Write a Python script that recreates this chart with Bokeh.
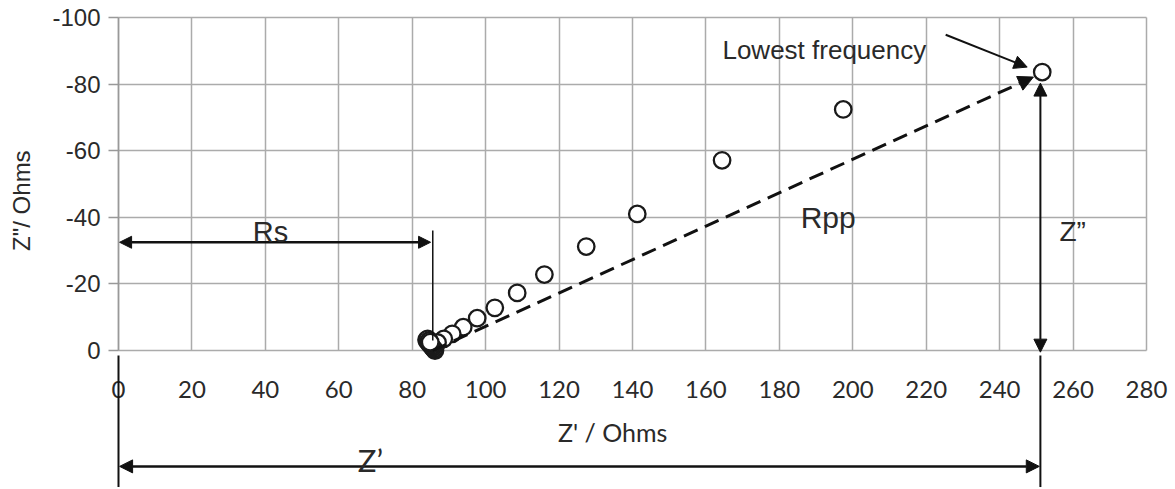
import math
from bokeh.plotting import figure
from bokeh.models import Range1d, FixedTicker, Arrow, NormalHead, Label, Grid
from bokeh.embed import file_html
from bokeh.resources import INLINE

# Nyquist data: real part Z' (Ohms) and imaginary part Z'' (Ohms), low -> high frequency
z_real = [251.6, 197.4, 164.4, 141.3, 127.4, 116.0, 108.6, 102.5, 97.7, 93.9,
          90.9, 88.6, 86.9, 86.2, 85.9, 85.6, 85.3, 85.0, 84.7, 84.4, 84.1,
          83.9, 84.2, 84.6, 84.9]
z_imag = [-83.6, -72.4, -57.1, -41.0, -31.2, -22.8, -17.3, -12.8, -9.7, -7.0,
          -5.0, -3.5, -2.4, 0.0, -0.4, -0.8, -1.2, -1.6, -2.0, -2.4, -2.8,
          -3.2, -3.5, -3.0, -2.5]

x_ticks = [0, 20, 40, 60, 80, 100, 120, 140, 160, 180, 200, 220, 240, 260, 280]
y_ticks = [0, -20, -40, -60, -80, -100]
y_tick_labels = {t: str(t) for t in y_ticks}
x_title = "Z' / Ohms"
y_title = 'Z"/ Ohms'

# annotation anchors (Ohms)
rs_value = 85.6          # series resistance
z_low_re = 251.1         # Z' at lowest frequency
z_low_im = -80.3         # Z'' at lowest frequency (arrow tip)
rpp_tip = (249.2, -82.1)

# visible window (leaves room for tick labels and dimension lines around the grid)
x_view = (-32.14, 287.9)
y_view = (41.74, -105.1)

GRID = "#ababab"
INK = "#111111"
TXT = "#2a2a2a"
ARIAL = "Liberation Sans"
CAL = "Lato"

p = figure(width=1175, height=489,
           x_range=Range1d(*x_view), y_range=Range1d(*y_view),
           output_backend="svg", toolbar_location=None,
           min_border_left=0, min_border_right=0,
           min_border_top=0, min_border_bottom=0)
p.background_fill_color = "white"
p.border_fill_color = "white"
p.outline_line_color = None

p.xaxis.ticker = FixedTicker(ticks=x_ticks)
p.yaxis.ticker = FixedTicker(ticks=y_ticks)
p.xgrid.ticker = FixedTicker(ticks=x_ticks)
p.ygrid.ticker = FixedTicker(ticks=y_ticks)
for g in (p.xgrid, p.ygrid):
    g.grid_line_color = GRID
    g.grid_line_width = 1.5
p.xgrid.cross_bounds = (-100, 0)
p.ygrid.cross_bounds = (0, 280)

# y axis, drawn at Z' = 0
ya = p.yaxis[0]
ya.fixed_location = 0
ya.bounds = (-100, 0)
ya.axis_line_color = "#999999"
ya.axis_line_width = 1.5
ya.major_tick_line_color = "#999999"
ya.major_tick_line_width = 1.5
ya.major_tick_out = 10
ya.major_tick_in = 0
ya.minor_tick_line_color = None
ya.major_label_overrides = y_tick_labels
ya.major_label_text_font = ARIAL
ya.major_label_text_font_size = "24px"
ya.major_label_text_color = TXT
ya.major_label_standoff = 8

# x axis, drawn at Z'' = 0
xa = p.xaxis[0]
xa.fixed_location = 0
xa.bounds = (0, 280)
xa.axis_line_color = None
xa.major_tick_line_color = None
xa.major_tick_out = 0
xa.major_tick_in = 0
xa.minor_tick_line_color = None
xa.major_label_text_font = CAL
xa.major_label_text_font_size = "24px"
xa.major_label_text_color = TXT
xa.major_label_standoff = 31

# axis titles
p.add_layout(Label(x=134.6, y=24.6, text=x_title, text_align="center", text_baseline="middle",
                   text_font=CAL, text_font_size="25px", text_color=TXT))
p.add_layout(Label(x=-26.4, y=-45.0, text=y_title, text_align="center", text_baseline="middle",
                   angle=math.pi / 2, text_font=ARIAL, text_font_size="24px", text_color=TXT))

# data points
p.scatter(z_real, z_imag, size=16.5, marker="circle",
          fill_color="white", line_color="#1a1a1a", line_width=2.3)


def head(sz):
    return NormalHead(size=sz, fill_color=INK, line_color=INK, line_width=1)


# Rpp dashed arrow
p.add_layout(Arrow(x_start=rs_value, y_start=0, x_end=rpp_tip[0], y_end=rpp_tip[1],
                   end=head(15), line_color=INK, line_width=3, line_dash="15 8"))
# Rs double arrow
p.add_layout(Arrow(x_start=0.3, y_start=-32.5, x_end=rs_value - 0.6, y_end=-32.5,
                   start=head(12), end=head(12), line_color=INK, line_width=2.5))
# Rs vertical marker line
p.add_layout(Arrow(x_start=rs_value, y_start=-36, x_end=rs_value, y_end=-3,
                   end=None, line_color=INK, line_width=1.5))
# Z'' double arrow
p.add_layout(Arrow(x_start=z_low_re, y_start=0.5, x_end=z_low_re, y_end=z_low_im,
                   start=head(13), end=head(13), line_color=INK, line_width=2))
# extension lines for Z'
p.add_layout(Arrow(x_start=z_low_re, y_start=1.5, x_end=z_low_re, y_end=41,
                   end=None, line_color=INK, line_width=2))
p.add_layout(Arrow(x_start=0, y_start=1.5, x_end=0, y_end=41,
                   end=None, line_color=INK, line_width=2))
# Z' double arrow
p.add_layout(Arrow(x_start=0.3, y_start=34.8, x_end=z_low_re - 0.3, y_end=34.8,
                   start=head(13), end=head(13), line_color=INK, line_width=2.5))
# Lowest frequency pointer
p.add_layout(Arrow(x_start=225.3, y_start=-94.8, x_end=247.5, y_end=-85.1,
                   end=head(13), line_color=INK, line_width=2))

labels = [
    ("Lowest frequency", 164.5, -90.1, "left", ARIAL, "26px"),
    ("Rpp", 185.8, -40.0, "left", ARIAL, "30px"),
    ("Rs", 41.4, -35.5, "center", ARIAL, "29px"),
    ("Z\u201d", 256.3, -35.7, "left", ARIAL, "28px"),
    ("Z\u2019", 68.6, 32.8, "center", CAL, "31px"),
]
for txt, lx, ly, al, fnt, fs in labels:
    p.add_layout(Label(x=lx, y=ly, text=txt, text_align=al, text_baseline="alphabetic",
                       text_font=fnt, text_font_size=fs, text_color=TXT))

open("out.html", "w").write(file_html(p, INLINE))
